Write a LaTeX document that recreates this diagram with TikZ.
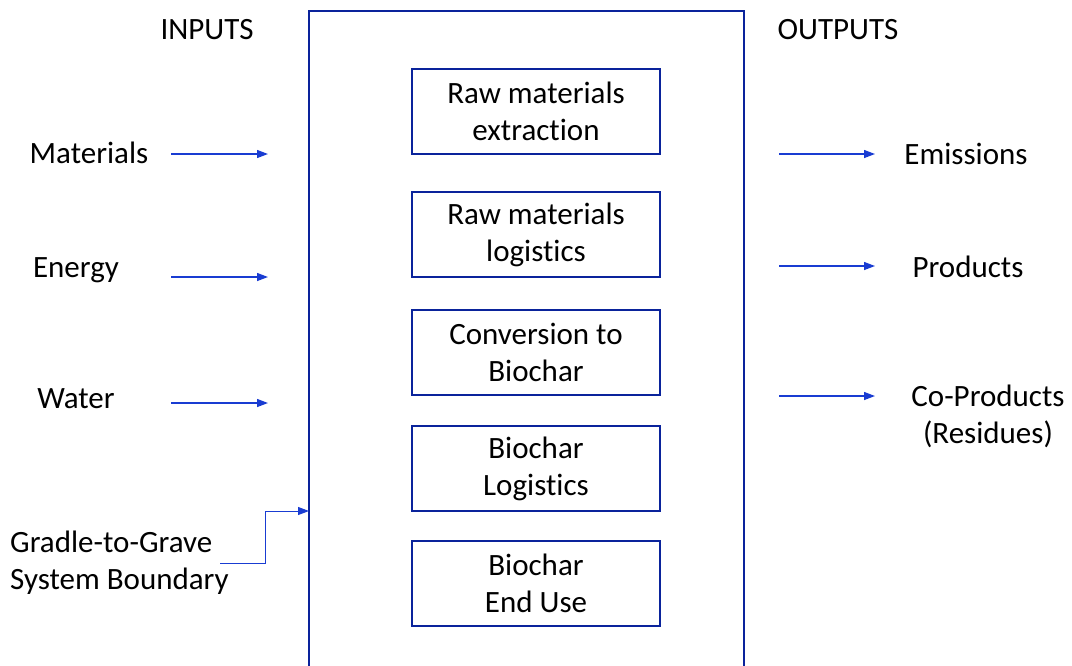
\documentclass[tikz,border=0pt]{standalone}
\usepackage{fontspec}
\setmainfont{Carlito}[Ligatures=NoCommon]
\usetikzlibrary{arrows.meta}
\definecolor{frameblue}{RGB}{10,35,155}
\definecolor{flowblue}{RGB}{25,60,210}
\begin{document}
\begin{tikzpicture}[x=1pt,
y=-1pt,
every node/.style={
align = center,
inner sep=0pt,
font=\fontsize{31}{37}\selectfont,
},
stage/.style={
draw=frameblue,
line width=2pt,
minimum height=85pt,
minimum width=248pt,
},
flow/.style={
draw=flowblue,
line width=1.3pt,
-{Triangle[length=11pt,width=8pt]},
}]
\useasboundingbox (0,0) rectangle (1072,665);

%System boundary (open at the bottom)
\draw[frameblue,line width=2.2pt] (309,668) |- (744,11) -- (744,668);
\coordinate (sysL) at (309,511);

%Life cycle stages
\node[stage] (s1) at (536,111.5){Raw materials\\extraction};
\node[stage] (s2) at (536,234.5){Raw materials\\logistics};
\node[stage] (s3) at (536,352.5){Conversion to\\Biochar};
\node[stage] (s4) at (536,468.5){Biochar\\Logistics};
\node[stage] (s5) at (536,583){Biochar\\End Use};

%Inputs
\node (inputs) at (207,30){INPUTS};
\node (mat) at (89,153){Materials};
\node (ene) at (76,270){Energy};
\node (wat) at (76,399){Water};
\coordinate (matS) at (171,154); \coordinate (matE) at (268,154);
\coordinate (eneS) at (171,277); \coordinate (eneE) at (268,277);
\coordinate (watS) at (171,403); \coordinate (watE) at (268,403);
\draw[flow] (matS) -- (matE);
\draw[flow] (eneS) -- (eneE);
\draw[flow] (watS) -- (watE);

%Outputs
\node (outputs) at (838,30){OUTPUTS};
\node (emi) at (966,154){Emissions};
\node (pro) at (968,267){Products};
\node (cop) at (988,416){Co-Products\\(Residues)};
\coordinate (emiS) at (779,154); \coordinate (emiE) at (875,154);
\coordinate (proS) at (779,266); \coordinate (proE) at (875,266);
\coordinate (copS) at (779,396); \coordinate (copE) at (875,396);
\draw[flow] (emiS) -- (emiE);
\draw[flow] (proS) -- (proE);
\draw[flow] (copS) -- (copE);

%Boundary label
\node[anchor=west,align=left] (gtg) at (10,563){Gradle-to-Grave\\System Boundary};
\coordinate (gtgS) at (220,563);
\draw[flow,line width=1pt] (gtgS) -- ++(45,0) |- (sysL);
\end{tikzpicture}
\end{document}
